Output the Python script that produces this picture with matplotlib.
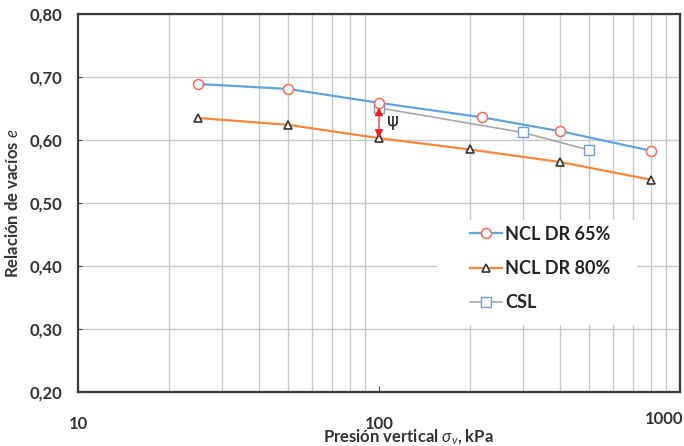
import numpy as np
import matplotlib.pyplot as plt
from matplotlib.patches import Rectangle
import matplotlib.transforms as mtransforms

plt.rcParams['font.family'] = ['Lato', 'DejaVu Sans']
plt.rcParams['mathtext.fontset'] = 'custom'
plt.rcParams['mathtext.rm'] = 'Lato'
plt.rcParams['mathtext.it'] = 'Lato:italic'

# data
p_ncl65 = [25, 50, 100, 220, 400, 800]
e_ncl65 = [0.689, 0.681, 0.659, 0.636, 0.614, 0.583]
p_ncl80 = [25, 50, 100, 200, 400, 800]
e_ncl80 = [0.635, 0.624, 0.603, 0.585, 0.565, 0.537]
p_csl = [100, 300, 500]
e_csl = [0.651, 0.612, 0.584]
# psi arrow between CSL and NCL DR 80% at 100 kPa
psi_p = 100
psi_top = 0.652
psi_bot = 0.603

fig = plt.figure(figsize=(6.84, 4.46), dpi=100)
ax = fig.add_axes([78/684, 1-392/446, 602/684, 378/446])

ax.set_xscale('log')
ax.set_xlim(10, 1000)
ax.set_ylim(0.2, 0.8)

ax.plot(p_ncl65, e_ncl65, color='#5ea3e2', lw=1.6, marker='o', ms=7.2,
        mfc='white', mec='#f26b5b', mew=1.1, label='NCL DR 65%', zorder=3)
ax.plot(p_ncl80, e_ncl80, color='#f7883a', lw=1.6, marker='^', ms=6,
        mfc='white', mec='#333333', mew=1.2, label='NCL DR 80%', zorder=3)
ax.plot(p_csl, e_csl, color='#a8a8a8', lw=1.2, marker='s', ms=6.5,
        mfc='white', mec='#6d9de0', mew=1.0, label='CSL', zorder=2.5)

ax.annotate('', xy=(psi_p, psi_top), xytext=(psi_p, psi_bot),
            arrowprops=dict(arrowstyle='<|-|>,head_length=0.5,head_width=0.25',
                            color='#e8202a', lw=0.9, shrinkA=0, shrinkB=0),
            zorder=4)
ax.text(psi_p * 1.06, (psi_top + psi_bot) / 2 + 0.002, 'ψ', fontsize=13,
        color='#222222', ha='left', va='center', family=['DejaVu Sans'])

# grid
ax.set_axisbelow(True)
ax.grid(axis='y', which='major', color='#c8c8c8', lw=1.0)
ax.grid(axis='x', which='minor', color='#c8c8c8', lw=1.0)
ax.grid(axis='x', which='major', visible=False)

ax.set_yticks(np.arange(0.2, 0.81, 0.1))
ax.set_yticklabels(['0,20', '0,30', '0,40', '0,50', '0,60', '0,70', '0,80'])
ax.set_xticks([10, 100, 1000])
ax.set_xticklabels(['10', '100', '1000'])

ax.tick_params(axis='y', which='major', direction='in', length=3, pad=11,
               labelsize=12, labelcolor='#333333', color='#444444')
ax.tick_params(axis='x', which='major', direction='in', length=4, pad=17,
               labelsize=12, labelcolor='#333333', color='#444444')
ax.tick_params(axis='x', which='minor', length=0)
for lab in ax.get_yticklabels() + ax.get_xticklabels():
    lab.set_fontweight('bold')
last = ax.get_xticklabels()[-1]
last.set_horizontalalignment('right')
last.set_transform(last.get_transform() +
                   mtransforms.ScaledTranslation(3/100, 5/100, fig.dpi_scale_trans))

for s in ax.spines.values():
    s.set_color('#3a3a3a')
    s.set_linewidth(1.6)

ax.set_ylabel('Relación de vacíos $e$', fontsize=12, fontweight='bold',
              color='#333333')
ax.yaxis.set_label_coords(-0.094, 0.50)
ax.set_xlabel(r'Presión vertical $\sigma_v$, kPa', fontsize=12,
              fontweight='bold', color='#333333')
ax.xaxis.set_label_coords(0.548, -0.093)

# white area behind the legend
ax.add_patch(Rectangle((0.596, 0.177), 0.333, 0.278, transform=ax.transAxes,
                       facecolor='white', edgecolor='none', zorder=1))
leg = ax.legend(loc='upper left', bbox_to_anchor=(0.651, 0.44), frameon=False,
                borderpad=0, borderaxespad=0, labelspacing=0.95,
                handlelength=1.8, handletextpad=0.15,
                prop={'size': 13, 'weight': 'bold'})
for t in leg.get_texts():
    t.set_color('#222222')

fig.savefig('out.png', dpi=100)
